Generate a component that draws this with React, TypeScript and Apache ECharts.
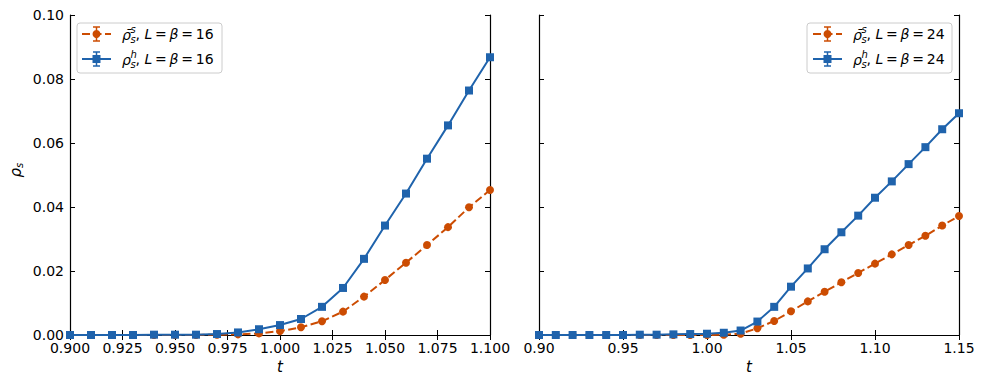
import React, { useEffect, useRef } from "react";
import * as echarts from "echarts";

// ---- data ----
const tLeft = [0.9, 0.91, 0.92, 0.93, 0.94, 0.95, 0.96, 0.97, 0.98, 0.99, 1.0, 1.01, 1.02, 1.03, 1.04, 1.05, 1.06, 1.07, 1.08, 1.09, 1.1];
const rhoBarS16 = [0, 0, 0, 0, 0, 0, 0, 0.0001, 0.0002, 0.0005, 0.0012, 0.0024, 0.0043, 0.0073, 0.012, 0.0172, 0.0226, 0.0281, 0.0337, 0.0399, 0.0453];
const rhoH16 = [0, 0, 0, 0, 0.0001, 0.0001, 0.0001, 0.0003, 0.0008, 0.0018, 0.0031, 0.005, 0.0088, 0.0147, 0.0238, 0.0342, 0.0442, 0.0551, 0.0655, 0.0764, 0.0868];

const tRight = [0.9, 0.91, 0.92, 0.93, 0.94, 0.95, 0.96, 0.97, 0.98, 0.99, 1.0, 1.01, 1.02, 1.03, 1.04, 1.05, 1.06, 1.07, 1.08, 1.09, 1.1, 1.11, 1.12, 1.13, 1.14, 1.15];
const rhoBarS24 = [0, 0, 0, 0, 0, 0, 0, 0, 0, 0, 0, 0.0001, 0.0004, 0.0021, 0.0044, 0.0074, 0.0105, 0.0135, 0.0165, 0.0194, 0.0223, 0.0252, 0.0281, 0.031, 0.0342, 0.0372];
const rhoH24 = [0, 0, 0, 0, 0, 0, 0.0001, 0.0001, 0.0002, 0.0003, 0.0004, 0.0007, 0.0014, 0.0042, 0.0088, 0.0151, 0.0208, 0.0268, 0.0321, 0.0373, 0.0429, 0.048, 0.0534, 0.0587, 0.0643, 0.0693];

const yTicks = [0, 0.1, 0.02];
const leftX = [0.9, 1.1, 0.025];
const rightX = [0.9, 1.15, 0.05];

const ORANGE = "#cc4c02";
const BLUE = "#1f63ac";
const FONT = "DejaVu Sans";

export default function App() {
  const ref = useRef<HTMLDivElement>(null);
  useEffect(() => {
    if (!ref.current) return;
    const chart = echarts.init(ref.current, undefined, { renderer: "svg" });

    const axisLine = { show: true, lineStyle: { color: "#000", width: 1.2 } };
    const tick = { show: true, inside: true, length: 5, lineStyle: { color: "#000", width: 1 } };
    const label = (dec: number, show: boolean, margin: number) => ({
      show,
      fontSize: 14,
      fontFamily: FONT,
      color: "#000",
      margin,
      formatter: (v: number) => v.toFixed(dec),
    });

    const mkX = (grid: number, r: number[], pos: string, dec: number, show: boolean) => ({
      type: "value",
      gridIndex: grid,
      position: pos,
      min: r[0],
      max: r[1],
      interval: r[2],
      axisLine,
      axisTick: tick,
      axisLabel: label(dec, show, 6),
      splitLine: { show: false },
    });
    const mkY = (grid: number, pos: string, show: boolean) => ({
      type: "value",
      gridIndex: grid,
      position: pos,
      min: yTicks[0],
      max: yTicks[1],
      interval: yTicks[2],
      axisLine,
      axisTick: tick,
      axisLabel: label(2, show, 6),
      splitLine: { show: false },
    });

    const orangeSeries = (xi: number, t: number[], v: number[]) => ({
      type: "line",
      xAxisIndex: xi,
      yAxisIndex: xi,
      data: t.map((x, i) => [x, v[i]]),
      symbol: "circle",
      symbolSize: 8,
      showAllSymbol: true,
      itemStyle: { color: ORANGE },
      lineStyle: { color: ORANGE, width: 2, type: [8, 3.5] },
      z: 2,
      clip: true,
    });
    const blueSeries = (xi: number, t: number[], v: number[]) => ({
      type: "line",
      xAxisIndex: xi,
      yAxisIndex: xi,
      data: t.map((x, i) => [x, v[i]]),
      symbol: "rect",
      symbolSize: 8,
      showAllSymbol: true,
      itemStyle: { color: BLUE },
      lineStyle: { color: BLUE, width: 2 },
      z: 3,
      clip: true,
    });

    const legendEntries = (bx: number, bw: number, hx1: number, hx2: number, tx: number, n: string) => {
      const mid = (hx1 + hx2) / 2;
      const rows = [34, 59];
      const els: any[] = [
        {
          type: "rect",
          shape: { x: bx, y: 23, width: bw, height: 50, r: 3 },
          style: { fill: "rgba(255,255,255,0.8)", stroke: "#cccccc", lineWidth: 1 },
          z: 100,
        },
      ];
      rows.forEach((y, k) => {
        const c = k === 0 ? ORANGE : BLUE;
        els.push({
          type: "line",
          shape: { x1: hx1, y1: y, x2: hx2, y2: y },
          style: { stroke: c, lineWidth: 2, lineDash: k === 0 ? [8, 3.5] : null },
          z: 101,
        });
        els.push({ type: "line", shape: { x1: mid, y1: y - 7, x2: mid, y2: y + 7 }, style: { stroke: c, lineWidth: 1.5 }, z: 101 });
        els.push({ type: "line", shape: { x1: mid - 3.5, y1: y - 7, x2: mid + 3.5, y2: y - 7 }, style: { stroke: c, lineWidth: 1.5 }, z: 101 });
        els.push({ type: "line", shape: { x1: mid - 3.5, y1: y + 7, x2: mid + 3.5, y2: y + 7 }, style: { stroke: c, lineWidth: 1.5 }, z: 101 });
        if (k === 0) {
          els.push({ type: "circle", shape: { cx: mid, cy: y, r: 4 }, style: { fill: c }, z: 102 });
        } else {
          els.push({ type: "rect", shape: { x: mid - 4, y: y - 4, width: 8, height: 8 }, style: { fill: c }, z: 102 });
        }
        els.push({
          type: "text",
          x: tx,
          y: y + 1,
          style: { text: k === 0 ? "ρ\u0304" : "ρ", fontSize: 14, fontFamily: FONT, fontStyle: "italic", fill: "#000", align: "left", verticalAlign: "middle" },
          z: 102,
        });
        els.push({
          type: "text",
          x: tx + 8.5,
          y: y - 5,
          style: { text: k === 0 ? "s" : "h", fontSize: 10, fontFamily: FONT, fontStyle: "italic", fill: "#000", align: "left", verticalAlign: "middle" },
          z: 102,
        });
        els.push({
          type: "text",
          x: tx + 8.5,
          y: y + 5,
          style: { text: "s", fontSize: 10, fontFamily: FONT, fontStyle: "italic", fill: "#000", align: "left", verticalAlign: "middle" },
          z: 102,
        });
        els.push({
          type: "text",
          x: tx + 13.5,
          y: y,
          style: {
            text: "{n|, }{i|L}{n|\u2009=\u2009}{i|β}{n|\u2009=\u2009" + n + "}",
            rich: {
              n: { fontSize: 14, fontFamily: FONT, fontStyle: "normal", fill: "#000" },
              i: { fontSize: 14, fontFamily: FONT, fontStyle: "italic", fill: "#000" },
            },
            fontSize: 14,
            fontFamily: FONT,
            fill: "#000",
            align: "left",
            verticalAlign: "middle",
          },
          z: 102,
        });
      });
      return els;
    };

    const option: any = {
      animation: false,
      backgroundColor: "#fff",
      grid: [
        { left: 70, top: 15, width: 420, height: 320 },
        { left: 539, top: 15, width: 420, height: 320 },
      ],
      xAxis: [
        mkX(0, leftX, "bottom", 3, true),
        mkX(0, leftX, "top", 3, false),
        mkX(1, rightX, "bottom", 2, true),
        mkX(1, rightX, "top", 2, false),
      ],
      yAxis: [mkY(0, "left", true), mkY(0, "right", false), mkY(1, "left", false), mkY(1, "right", false)],
      series: [
        orangeSeries(0, tLeft, rhoBarS16),
        blueSeries(0, tLeft, rhoH16),
        orangeSeries(2, tRight, rhoBarS24),
        blueSeries(2, tRight, rhoH24),
      ],
      graphic: [
        ...legendEntries(77, 145, 82, 111, 122, "16"),
        ...legendEntries(807, 145, 813, 842, 853, "24"),
        {
          type: "text",
          x: 280,
          y: 367,
          style: { text: "t", fontSize: 15, fontFamily: FONT, fontStyle: "italic", fill: "#000", align: "center", verticalAlign: "middle" },
        },
        {
          type: "text",
          x: 749,
          y: 367,
          style: { text: "t", fontSize: 15, fontFamily: FONT, fontStyle: "italic", fill: "#000", align: "center", verticalAlign: "middle" },
        },
        {
          type: "group",
          x: 16,
          y: 169,
          rotation: Math.PI / 2,
          children: [
            {
              type: "text",
              x: 1,
              y: 0,
              style: { text: "ρ", fontSize: 15, fontFamily: FONT, fontStyle: "italic", fill: "#000", align: "right", verticalAlign: "middle" },
            },
            {
              type: "text",
              x: 1,
              y: 3,
              style: { text: "s", fontSize: 10, fontFamily: FONT, fontStyle: "italic", fill: "#000", align: "left", verticalAlign: "middle" },
            },
          ],
        },
      ],
    };
    chart.setOption(option);
    return () => chart.dispose();
  }, []);

  return <div ref={ref} style={{ position: "fixed", left: 0, top: 0, width: 986, height: 387 }} />;
}
